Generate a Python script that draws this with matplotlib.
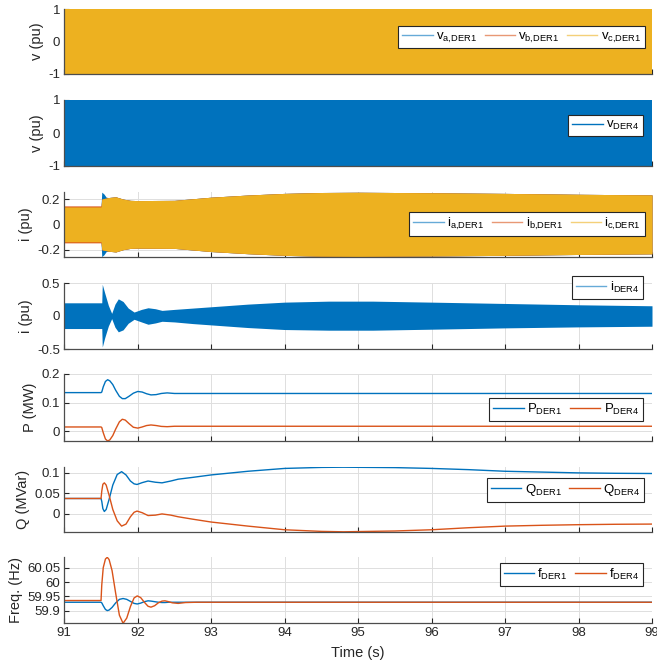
import matplotlib
matplotlib.use('Agg')
import matplotlib.pyplot as plt
from matplotlib.lines import Line2D

plt.rcParams['font.family'] = ['Liberation Sans', 'DejaVu Sans']
plt.rcParams['mathtext.fontset'] = 'custom'
plt.rcParams['mathtext.rm'] = 'Liberation Sans'
plt.rcParams['axes.unicode_minus'] = False

C_BLUE = '#0072BD'
C_RED = '#D95319'
C_YEL = '#EDB120'

# ---------------- data ----------------
# Voltage envelopes (pu)
tV = [91.0, 99.0]
vABC_env = [1.0, 1.0]
vDER4_env = [1.0, 1.0]

# DER1 phase-current envelopes (pu)
tI1 = [91.0, 91.5, 91.51, 91.54, 91.57, 91.6, 91.7, 91.8, 91.9, 92.0, 92.5,
       93.0, 93.5, 94.0, 94.5, 95.0, 96.0, 97.0, 98.0, 99.0]
iA1_env = [0.14, 0.14, 0.255, 0.24, 0.215, 0.212, 0.218, 0.2, 0.19, 0.188, 0.19,
           0.215, 0.232, 0.245, 0.252, 0.254, 0.25, 0.245, 0.238, 0.233]
iB1_env = [0.146, 0.146, 0.2, 0.205, 0.208, 0.212, 0.218, 0.2, 0.19, 0.188, 0.19,
           0.215, 0.232, 0.245, 0.252, 0.254, 0.25, 0.245, 0.238, 0.233]
iC1_env = [0.138, 0.138, 0.2, 0.205, 0.208, 0.212, 0.218, 0.2, 0.19, 0.188, 0.19,
           0.215, 0.232, 0.245, 0.252, 0.254, 0.25, 0.245, 0.238, 0.233]

# DER4 current envelope (pu)
tI4 = [91.0, 91.51, 91.517, 91.55, 91.6, 91.645, 91.69, 91.735, 91.8, 91.87, 91.95,
       92.05, 92.14, 92.24, 92.33, 92.5, 92.75, 93.0, 93.5, 94.0, 94.6, 95.2,
       96.0, 97.0, 98.0, 99.0]
i4_up = [0.2, 0.2, 0.48, 0.35, 0.16, 0.04, 0.18, 0.26, 0.22, 0.12, 0.06,
         0.10, 0.125, 0.11, 0.085, 0.10, 0.12, 0.14, 0.18, 0.21, 0.225, 0.225,
         0.21, 0.19, 0.17, 0.155]
i4_lo = [-0.19, -0.19, -0.47, -0.33, -0.15, -0.04, -0.17, -0.24, -0.21, -0.11, -0.05,
         -0.09, -0.125, -0.105, -0.08, -0.09, -0.115, -0.135, -0.175, -0.205, -0.215, -0.215,
         -0.2, -0.18, -0.165, -0.155]

# Active power (MW)
tP = [91.0, 91.5, 91.51, 91.53, 91.56, 91.59, 91.62, 91.66, 91.70, 91.75, 91.79,
      91.83, 91.88, 91.94, 92.0, 92.06, 92.12, 92.18, 92.25, 92.32, 92.4, 92.5, 99.0]
P_DER1 = [0.135, 0.135, 0.137, 0.155, 0.174, 0.180, 0.176, 0.163, 0.143, 0.122, 0.114,
          0.114, 0.122, 0.133, 0.139, 0.137, 0.131, 0.127, 0.128, 0.132, 0.134, 0.132, 0.132]
P_DER4 = [0.015, 0.015, 0.013, -0.005, -0.027, -0.034, -0.030, -0.015, 0.008, 0.033, 0.042,
          0.039, 0.027, 0.014, 0.011, 0.015, 0.020, 0.022, 0.020, 0.017, 0.016, 0.0175, 0.0175]

# Reactive power (MVar)
tQ = [91.0, 91.5, 91.51, 91.525, 91.545, 91.57, 91.61, 91.66, 91.72, 91.78, 91.84,
      91.9, 91.95, 91.99, 92.06, 92.14, 92.24, 92.33, 92.45, 92.55, 92.75, 93.0,
      93.5, 94.0, 94.5, 94.8, 95.5, 96.0, 96.5, 97.0, 97.5, 98.0, 98.5, 99.0]
Q_DER1 = [0.037, 0.037, 0.030, 0.012, 0.005, 0.010, 0.035, 0.070, 0.096, 0.103, 0.095,
          0.080, 0.073, 0.0715, 0.076, 0.080, 0.077, 0.0755, 0.080, 0.0845, 0.089, 0.095,
          0.104, 0.111, 0.1135, 0.114, 0.113, 0.111, 0.108, 0.104, 0.102, 0.100, 0.099, 0.0985]
Q_DER4 = [0.037, 0.037, 0.055, 0.072, 0.0755, 0.070, 0.045, 0.010, -0.018, -0.031, -0.026,
          -0.008, 0.003, 0.006, 0.002, -0.005, -0.004, -0.001, -0.004, -0.008, -0.014, -0.021,
          -0.031, -0.040, -0.044, -0.045, -0.043, -0.040, -0.035, -0.031, -0.029, -0.0275, -0.0265, -0.026]

# Frequency (Hz)
tF = [91.0, 91.5, 91.51, 91.53, 91.56, 91.585, 91.61, 91.65, 91.70, 91.75, 91.80,
      91.85, 91.90, 91.95, 91.993, 92.04, 92.09, 92.14, 92.18, 92.23, 92.28, 92.33,
      92.37, 92.42, 92.47, 92.55, 92.65, 92.8, 99.0]
F_DER1 = [59.93, 59.93, 59.928, 59.918, 59.905, 59.901, 59.903, 59.912, 59.928, 59.94, 59.943,
          59.94, 59.933, 59.926, 59.924, 59.927, 59.932, 59.935, 59.934, 59.932, 59.93, 59.929,
          59.929, 59.93, 59.93, 59.93, 59.93, 59.93, 59.93]
F_DER4 = [59.936, 59.936, 59.99, 60.05, 60.08, 60.086, 60.078, 60.04, 59.96, 59.885, 59.857,
          59.875, 59.915, 59.945, 59.952, 59.946, 59.93, 59.916, 59.913, 59.918, 59.928, 59.934,
          59.935, 59.932, 59.928, 59.926, 59.929, 59.93, 59.93]

x_ticks = [91, 92, 93, 94, 95, 96, 97, 98, 99]

# ---------------- figure ----------------
fig = plt.figure(figsize=(6.57, 6.65), dpi=100)
W, H = 657.0, 665.0
left_px, right_px = 64.3, 652.0
panels_px = [(9, 74), (100, 166), (192, 257), (283, 349), (374, 441), (467, 532), (557, 623)]
axes = []
for top, bot in panels_px:
    axes.append(fig.add_axes([left_px / W, 1 - bot / H, (right_px - left_px) / W, (bot - top) / H]))


def style(ax, ylim, yticks, ylabels, ylabel, bottom=False):
    ax.set_xlim(91, 99)
    ax.set_xticks(x_ticks)
    ax.set_ylim(*ylim)
    ax.set_yticks(yticks)
    ax.set_yticklabels(ylabels)
    if bottom:
        ax.set_xticklabels([str(v) for v in x_ticks])
        ax.set_xlabel('Time (s)', fontsize=10.5, color='#262626', labelpad=5)
    else:
        ax.set_xticklabels([])
    ax.set_ylabel(ylabel, fontsize=10.5, color='#262626', labelpad=3)
    ax.grid(True, color='#dedede', lw=0.7)
    ax.set_axisbelow(True)
    for s in ('top', 'right'):
        ax.spines[s].set_visible(False)
    for s in ('left', 'bottom'):
        ax.spines[s].set_color('#4d4d4d')
        ax.spines[s].set_linewidth(0.9)
    ax.tick_params(direction='in', length=3.5, width=0.8, colors='#262626',
                   labelsize=9.5, top=False, right=False, pad=3)


def leg(ax, labels, colors, x, y, ncol, alpha=1.0):
    handles = [Line2D([], [], color=c, lw=1.0, alpha=alpha) for c in colors]
    lg = ax.legend(handles, labels, loc='upper right', bbox_to_anchor=(x, y),
                   ncol=ncol, fontsize=9.5, frameon=True, fancybox=False, framealpha=1,
                   edgecolor='#262626', borderaxespad=0, handlelength=2.3,
                   handletextpad=0.25, columnspacing=0.6, borderpad=0.3)
    lg.get_frame().set_linewidth(0.8)
    return lg


def lab(sym, sub):
    return r'$\mathregular{' + sym + '_{' + sub.replace(',', '{,}') + '}}$'


# Panel 1: DER1 phase voltages
ax = axes[0]
ax.fill_between(tV, [-v for v in vABC_env], vABC_env, color=C_BLUE, lw=0)
ax.fill_between(tV, [-v for v in vABC_env], vABC_env, color=C_RED, lw=0)
ax.fill_between(tV, [-v for v in vABC_env], vABC_env, color=C_YEL, lw=0)
style(ax, (-1, 1), [-1, 0, 1], ['-1', '0', '1'], 'v (pu)')
leg(ax, [lab('v', 'a,DER1'), lab('v', 'b,DER1'), lab('v', 'c,DER1')],
    [C_BLUE, C_RED, C_YEL], 0.988, 0.738, 3, alpha=0.6)

# Panel 2: DER4 voltage
ax = axes[1]
ax.fill_between(tV, [-v for v in vDER4_env], vDER4_env, color=C_BLUE, lw=0)
style(ax, (-1, 1), [-1, 0, 1], ['-1', '0', '1'], 'v (pu)')
leg(ax, [lab('v', 'DER4')], [C_BLUE], 0.985, 0.773, 1)

# Panel 3: DER1 phase currents
ax = axes[2]
ax.fill_between(tI1, [-v for v in iA1_env], iA1_env, color=C_BLUE, lw=0)
ax.fill_between(tI1, [-v for v in iB1_env], iB1_env, color=C_RED, lw=0)
ax.fill_between(tI1, [-v for v in iC1_env], iC1_env, color=C_YEL, lw=0)
style(ax, (-0.258, 0.256), [-0.2, 0, 0.2], ['-0.2', '0', '0.2'], 'i (pu)')
leg(ax, [lab('i', 'a,DER1'), lab('i', 'b,DER1'), lab('i', 'c,DER1')],
    [C_BLUE, C_RED, C_YEL], 0.988, 0.692, 3, alpha=0.6)

# Panel 4: DER4 current
ax = axes[3]
ax.fill_between(tI4, i4_lo, i4_up, color=C_BLUE, lw=0)
style(ax, (-0.5, 0.5), [-0.5, 0, 0.5], ['-0.5', '0', '0.5'], 'i (pu)')
leg(ax, [lab('i', 'DER4')], [C_BLUE], 0.985, 1.106, 1, alpha=0.6)

# Panel 5: P
ax = axes[4]
ax.plot(tP, P_DER1, color=C_BLUE, lw=1.0)
ax.plot(tP, P_DER4, color=C_RED, lw=1.0)
style(ax, (-0.034, 0.2), [0, 0.1, 0.2], ['0', '0.1', '0.2'], 'P (MW)')
leg(ax, [lab('P', 'DER1'), lab('P', 'DER4')], [C_BLUE, C_RED], 0.985, 0.642, 2)

# Panel 6: Q
ax = axes[5]
ax.plot(tQ, Q_DER1, color=C_BLUE, lw=1.0)
ax.plot(tQ, Q_DER4, color=C_RED, lw=1.0)
style(ax, (-0.0455, 0.1145), [0, 0.05, 0.1], ['0', '0.05', '0.1'], 'Q (MVar)')
leg(ax, [lab('Q', 'DER1'), lab('Q', 'DER4')], [C_BLUE, C_RED], 0.986, 0.83, 2)

# Panel 7: frequency
ax = axes[6]
ax.plot(tF, F_DER1, color=C_BLUE, lw=1.0)
ax.plot(tF, F_DER4, color=C_RED, lw=1.0)
style(ax, (59.858, 60.087), [59.9, 59.95, 60, 60.05], ['59.9', '59.95', '60', '60.05'],
      'Freq. (Hz)', bottom=True)
leg(ax, [lab('f', 'DER1'), lab('f', 'DER4')], [C_BLUE, C_RED], 0.985, 0.909, 2)

fig.savefig('out.png', dpi=100)
